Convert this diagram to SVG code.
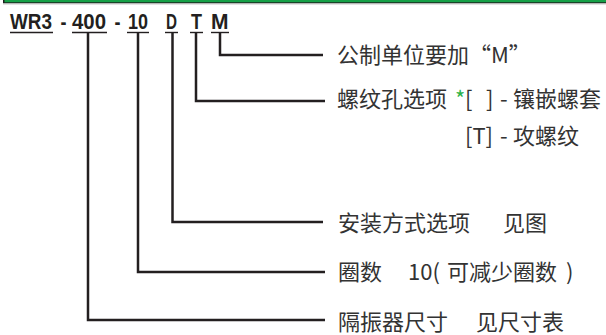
<svg xmlns="http://www.w3.org/2000/svg" width="606" height="335" viewBox="0 0 606 335">
<style>
.h{font-family:"Liberation Sans Narrow","Liberation Sans",Arial,sans-serif;font-weight:bold;font-size:21.5px;fill:#231f20}
.t{font-family:"Noto Sans CJK SC","Noto Sans",sans-serif;font-size:22px;fill:#333}
.c{fill:none;stroke:#231f20;stroke-width:2.5}
.u{stroke:#231f20;stroke-width:1.4}
</style>
<rect x="0" y="0" width="606" height="5" fill="#fff"/>
<rect x="3" y="0" width="603" height="3.4" fill="#1e1e1e"/>
<rect x="4.5" y="0" width="601.5" height="2.3" fill="#16a047"/>
<rect x="3" y="3.5" width="603" height="1" fill="#c8c8c8"/>
<g id="code">
<text class="h" x="10" y="28.5" textLength="42" lengthAdjust="spacingAndGlyphs">WR3</text>
<text class="h" x="60.5" y="28.5" textLength="6" lengthAdjust="spacingAndGlyphs">-</text>
<text class="h" x="72" y="28.5" textLength="34" lengthAdjust="spacingAndGlyphs">400</text>
<text class="h" x="114.5" y="28.5" textLength="6" lengthAdjust="spacingAndGlyphs">-</text>
<text class="h" x="128" y="28.5" textLength="20" lengthAdjust="spacingAndGlyphs">10</text>
<text class="h" x="166" y="28.5" textLength="11" lengthAdjust="spacingAndGlyphs">D</text>
<text class="h" x="191" y="28.5" textLength="11" lengthAdjust="spacingAndGlyphs">T</text>
<text class="h" x="211" y="28.5" textLength="17.5" lengthAdjust="spacingAndGlyphs">M</text>
<line class="u" x1="10" y1="32.5" x2="53" y2="32.5"/>
<line class="u" x1="72" y1="32.5" x2="107" y2="32.5"/>
<line class="u" x1="127" y1="32.5" x2="149" y2="32.5"/>
<line class="u" x1="165" y1="32.5" x2="178" y2="32.5"/>
<line class="u" x1="190" y1="32.5" x2="203" y2="32.5"/>
<line class="u" x1="211" y1="32.5" x2="229" y2="32.5"/>
</g>
<g id="connectors">
<path class="c" d="M220 32V55H323"/>
<path class="c" d="M196 32V101H325"/>
<path class="c" d="M172.5 32V222H323"/>
<path class="c" d="M138 32V272H325"/>
<path class="c" d="M88 32V320H325"/>
</g>
<g id="n-metric"><text class="t" x="337" y="63">公制单位要加“M”</text></g>
<g id="n-thread">
<text class="t" x="337" y="107">螺纹孔选项</text>
<text class="t" x="455" y="107" style="fill:#2db34a">*</text>
<text class="t" x="465" y="107">[</text>
<text class="t" x="486" y="107">]</text>
<text class="t" x="500" y="107">-</text>
<text class="t" x="513" y="107">镶嵌螺套</text>
<text class="t" x="465" y="144">[T]</text>
<text class="t" x="500" y="144">-</text>
<text class="t" x="513" y="144">攻螺纹</text>
</g>
<g id="n-mount"><text class="t" x="338" y="231">安装方式选项<tspan x="503">见图</tspan></text></g>
<g id="n-turns"><text class="t" x="338" y="280">圈数<tspan x="408">10(</tspan><tspan x="447">可减少圈数</tspan><tspan x="566">)</tspan></text></g>
<g id="n-size"><text class="t" x="338" y="330">隔振器尺寸<tspan x="476">见尺寸表</tspan></text></g>
</svg>
